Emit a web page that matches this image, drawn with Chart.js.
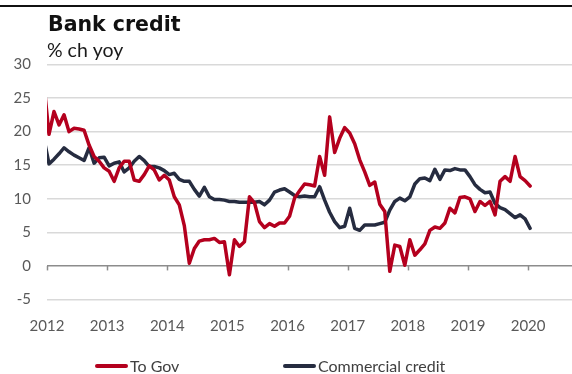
<!DOCTYPE html>
<html>
<head>
<meta charset="utf-8">
<script src="https://cdn.jsdelivr.net/npm/chart.js@4.4.1/dist/chart.umd.min.js"></script>
<style>
html, body { margin: 0; padding: 0; background: #fff; }
</style>
</head>
<body>
<canvas id="creditChart" width="572" height="374"></canvas>
<script>
// monthly % ch yoy, first point Dec 2011 (falls just left of the axis)
const startYear = 2011;
const startMonth = 11;
const years = [2012, 2013, 2014, 2015, 2016, 2017, 2018, 2019, 2020];
const yTicks = [-5, 0, 5, 10, 15, 20, 25, 30];

const toGov = [27,
  19.6, 23.0, 21.0, 22.5, 20.0, 20.5, 20.4, 20.2, 18.0, 16.3, 15.6, 14.6,
  14.1, 12.6, 14.6, 15.6, 15.6, 12.8, 12.6, 13.6, 14.9, 14.3, 12.8, 13.5,
  12.8, 10.3, 9.1, 6.0, 0.4, 2.6, 3.7, 3.9, 3.9, 4.1, 3.5, 3.6,
  -1.3, 3.9, 2.9, 3.6, 10.3, 9.4, 6.6, 5.7, 6.3, 5.9, 6.4, 6.4,
  7.4, 10.1, 11.2, 12.2, 12.1, 11.9, 16.3, 13.5, 22.2, 16.9, 19.0, 20.6,
  19.8, 18.2, 15.8, 14.0, 12.0, 12.5, 9.2, 8.1, -0.8, 3.1, 2.9, 0.1,
  3.9, 1.6, 2.4, 3.3, 5.3, 5.8, 5.6, 6.4, 8.6, 7.9, 10.2, 10.3,
  10.0, 8.1, 9.6, 9.0, 9.6, 7.6, 12.6, 13.3, 12.6, 16.3, 13.3, 12.7,
  11.9];

const commercialCredit = [18.9,
  15.2, 15.9, 16.7, 17.6, 17.0, 16.5, 16.1, 15.7, 17.6, 15.3, 16.1, 16.2,
  14.9, 15.3, 15.5, 14.0, 14.6, 15.6, 16.3, 15.7, 14.8, 14.8, 14.6, 14.2,
  13.6, 13.8, 12.9, 12.6, 12.6, 11.4, 10.4, 11.7, 10.3, 9.9, 9.9, 9.8,
  9.6, 9.6, 9.5, 9.5, 9.5, 9.5, 9.6, 9.1, 9.8, 11.0, 11.3, 11.5,
  11.0, 10.5, 10.3, 10.4, 10.3, 10.3, 11.8, 9.8, 8.0, 6.6, 5.7, 5.9,
  8.6, 5.6, 5.3, 6.1, 6.1, 6.1, 6.3, 6.5, 8.3, 9.6, 10.1, 9.7,
  10.3, 12.2, 13.0, 13.1, 12.7, 14.4, 12.9, 14.3, 14.2, 14.5, 14.3, 14.3,
  13.3, 12.1, 11.4, 10.9, 11.0, 9.3, 8.7, 8.4, 7.8, 7.2, 7.6, 7.0,
  5.6];

const monthX = toGov.map((v, i) => startYear + (startMonth + i + 0.4) / 12);

const RED = '#b4001e';
const NAVY = '#262c40';
const TICK_COLOR = '#595959';

// title, rule on top and legend drawn by hand
const decorations = {
  id: 'decorations',
  beforeDatasetsDraw(chart) {
    const ctx = chart.ctx;
    const xs = chart.scales.x, ys = chart.scales.y;
    const y0 = ys.getPixelForValue(0);
    ctx.save();
    ctx.strokeStyle = '#8c8c8c';
    ctx.lineWidth = 1.5;
    years.forEach(yr => {
      const x = Math.round(xs.getPixelForValue(yr)) + 0.5;
      ctx.beginPath();
      ctx.moveTo(x, y0);
      ctx.lineTo(x, y0 + 4.5);
      ctx.stroke();
    });
    ctx.restore();
  },
  afterDraw(chart) {
    const ctx = chart.ctx;
    const left = chart.chartArea.left;
    ctx.save();
    ctx.fillStyle = '#111';
    ctx.fillRect(0, 5, chart.width, 2);

    ctx.textBaseline = 'alphabetic';
    ctx.textAlign = 'left';
    ctx.font = 'bold 20.5px "DejaVu Sans"';
    ctx.fillText('Bank credit', left + 1, 31);
    ctx.font = '19.5px Lato';
    ctx.fillStyle = '#1a1a1a';
    ctx.fillText('% ch yoy', left, 57);

    const legendX = [95, 283];
    chart.data.datasets.forEach((ds, i) => {
      const x0 = legendX[i];
      ctx.strokeStyle = ds.borderColor;
      ctx.lineWidth = 4;
      ctx.lineCap = 'round';
      ctx.beginPath();
      ctx.moveTo(x0 + 2, 366);
      ctx.lineTo(x0 + 31, 366);
      ctx.stroke();
      ctx.fillStyle = '#404040';
      ctx.font = '16px Lato';
      ctx.fillText(ds.label, x0 + 35, 372);
    });
    ctx.restore();
  }
};

new Chart(document.getElementById('creditChart'), {
  type: 'line',
  data: {
    datasets: [{
      label: 'To Gov',
      data: monthX.map((x, i) => ({ x: x, y: toGov[i] })),
      borderColor: RED,
      backgroundColor: RED,
      borderWidth: 3.5
    },
    {
      label: 'Commercial credit',
      data: monthX.map((x, i) => ({ x: x, y: commercialCredit[i] })),
      borderColor: NAVY,
      backgroundColor: NAVY,
      borderWidth: 3.5
    }]
  },
  options: {
    responsive: false,
    animation: false,
    devicePixelRatio: 1,
    layout: { padding: { top: 64.5, bottom: 0, left: 0, right: 0 } },
    elements: {
      point: { radius: 0, hoverRadius: 0 },
      line: { tension: 0, borderJoinStyle: 'round', borderCapStyle: 'round' }
    },
    plugins: {
      legend: { display: false },
      tooltip: { enabled: false }
    },
    scales: {
      x: {
        type: 'linear',
        min: 2012,
        max: 2020.73,
        afterBuildTicks: s => { s.ticks = years.map(v => ({ value: v })); },
        afterFit: s => { s.height = 74.5; },
        grid: { display: false },
        border: { display: false },
        ticks: {
          callback: v => String(v),
          color: TICK_COLOR,
          font: { family: 'Lato', size: 15 },
          padding: 10,
          maxRotation: 0,
          autoSkip: false
        }
      },
      y: {
        min: -5,
        max: 30,
        afterBuildTicks: s => { s.ticks = yTicks.map(v => ({ value: v })); },
        afterFit: s => { s.width = 47; },
        border: { display: false },
        grid: {
          drawTicks: false,
          lineWidth: 1.5,
          color: c => c.tick && c.tick.value === 0 ? '#8c8c8c' : '#d9d9d9'
        },
        ticks: {
          color: TICK_COLOR,
          font: { family: 'Lato', size: 15 },
          padding: 16
        }
      }
    }
  },
  plugins: [decorations]
});
</script>
</body>
</html>
